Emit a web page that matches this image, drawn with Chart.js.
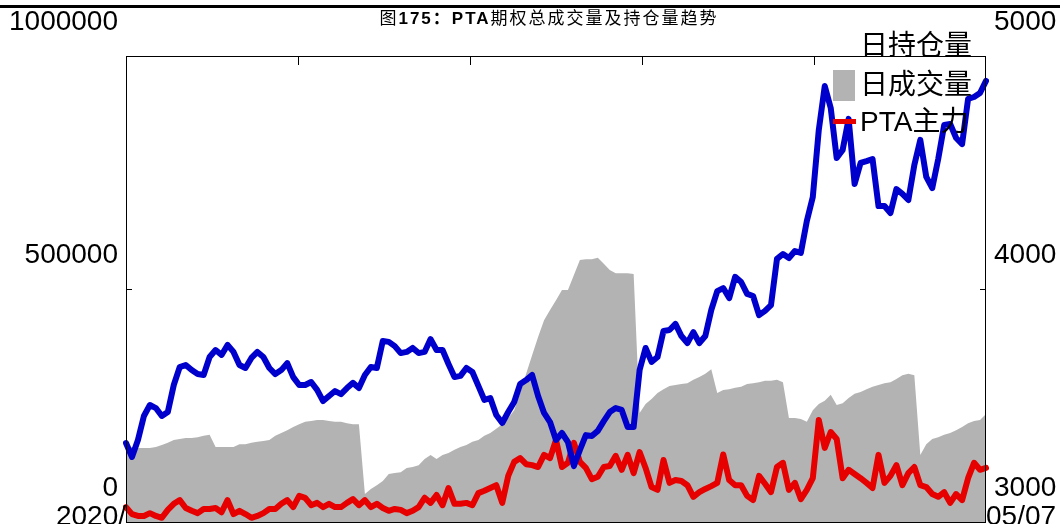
<!DOCTYPE html>
<html>
<head>
<meta charset="utf-8">
<title>PTA期权总成交量及持仓量趋势</title>
<script src="https://cdn.jsdelivr.net/npm/chart.js@4.4.1/dist/chart.umd.min.js"></script>
<style>
  html, body { margin: 0; padding: 0; background: #fff; }
</style>
</head>
<body>
<canvas id="js-chart-pta" width="1060" height="524"></canvas>
<script>
// Values (one point per trading step)
const ptaPrice = [
  3339, 3279, 3352, 3455, 3502, 3489, 3455, 3472, 3588, 3665,
  3674, 3652, 3635, 3631, 3708, 3738, 3717, 3760, 3730, 3674,
  3661, 3704, 3730, 3708, 3661, 3635, 3652, 3682, 3622, 3588,
  3588, 3601, 3567, 3519, 3541, 3562, 3549, 3575, 3597, 3575,
  3631, 3665, 3661, 3777, 3773, 3755, 3725, 3730, 3747, 3725,
  3730, 3785, 3738, 3738, 3678, 3622, 3627, 3661, 3644, 3584,
  3524, 3532, 3459, 3425, 3472, 3515, 3592, 3609, 3631, 3541,
  3468, 3429, 3352, 3382, 3343, 3240, 3309, 3373, 3369, 3391,
  3433, 3472, 3489, 3481, 3408, 3408, 3652, 3747, 3687, 3708,
  3820, 3824, 3850, 3798, 3768, 3815, 3768, 3798, 3910, 3991,
  4004, 3961, 4052, 4030, 3979, 3970, 3888, 3906, 3931, 4129,
  4150, 4133, 4163, 4155, 4292, 4395, 4682, 4871, 4777, 4562,
  4597, 4730, 4451, 4541, 4549, 4558, 4356, 4356, 4326, 4429,
  4408, 4382, 4532, 4640, 4481, 4433, 4558, 4704, 4708, 4648,
  4622, 4816, 4824, 4841, 4893
];

const openInterest = [
  161000, 161000, 159000, 159000, 159000, 161000, 165000, 170000, 176000, 178000,
  180000, 180000, 182000, 185000, 187000, 161000, 161000, 161000, 161000, 167000,
  167000, 170000, 172000, 174000, 176000, 185000, 191000, 197000, 204000, 210000,
  215000, 217000, 219000, 219000, 217000, 215000, 215000, 212000, 210000, 210000,
  60000, 71000, 79000, 88000, 103000, 105000, 107000, 116000, 118000, 122000,
  135000, 144000, 135000, 144000, 148000, 155000, 161000, 165000, 172000, 176000,
  185000, 191000, 200000, 210000, 223000, 240000, 277000, 318000, 358000, 397000,
  433000, 455000, 476000, 498000, 498000, 530000, 562000, 564000, 564000, 567000,
  554000, 541000, 534000, 534000, 534000, 532000, 234000, 253000, 264000, 277000,
  285000, 292000, 294000, 296000, 298000, 305000, 311000, 318000, 328000, 277000,
  283000, 285000, 288000, 290000, 296000, 298000, 300000, 303000, 303000, 305000,
  300000, 223000, 223000, 221000, 215000, 240000, 253000, 260000, 273000, 251000,
  255000, 266000, 275000, 279000, 285000, 290000, 294000, 298000, 300000, 307000,
  315000, 318000, 315000, 144000, 167000, 178000, 182000, 187000, 191000, 197000,
  204000, 212000, 217000, 219000, 232000
];

const dailyVolume = [
  32000, 17000, 13000, 13000, 19000, 13000, 9000, 26000, 39000, 47000,
  30000, 24000, 19000, 28000, 28000, 30000, 21000, 47000, 17000, 24000,
  17000, 9000, 13000, 19000, 28000, 28000, 39000, 47000, 32000, 56000,
  52000, 36000, 41000, 32000, 39000, 32000, 32000, 41000, 49000, 36000,
  47000, 32000, 39000, 30000, 24000, 28000, 26000, 19000, 24000, 32000,
  52000, 41000, 58000, 36000, 73000, 39000, 39000, 41000, 36000, 62000,
  67000, 73000, 79000, 41000, 99000, 129000, 137000, 124000, 122000, 118000,
  144000, 137000, 176000, 118000, 127000, 170000, 129000, 116000, 92000, 97000,
  118000, 120000, 142000, 112000, 144000, 105000, 150000, 116000, 75000, 69000,
  133000, 84000, 90000, 88000, 79000, 54000, 64000, 71000, 77000, 84000,
  145000, 90000, 79000, 79000, 56000, 47000, 99000, 82000, 64000, 118000,
  127000, 69000, 84000, 49000, 69000, 94000, 219000, 159000, 193000, 178000,
  94000, 112000, 103000, 94000, 84000, 73000, 144000, 84000, 99000, 122000,
  79000, 105000, 118000, 79000, 75000, 60000, 54000, 64000, 41000, 60000,
  47000, 94000, 127000, 112000, 116000
];

const leftTicks = [0, 500000, 1000000];
const rightTicks = [3000, 4000, 5000];
const xEndLabels = ['2020/', '05/07'];
const legendLabels = ['日持仓量', '日成交量', 'PTA主力'];
const titleParts = [['图', false], ['175：PTA', true], ['期权总成交量及持仓量趋势', false]];

const FONT = '"Liberation Sans", "Noto Sans CJK SC", sans-serif';

class pagePta {
  /*
   * Extra drawing: top rule, title, frame, inner ticks, legend, end labels
   */
  static decorations() {
    return {
      id: 'decorations',
      afterDraw(chart) {
        const ctx = chart.ctx;
        const a = chart.chartArea;
        const yL = chart.scales.yL;
        const yR = chart.scales.yR;
        ctx.save();

        // top rule
        ctx.fillStyle = '#000';
        ctx.fillRect(0, 5, chart.width, 3);

        // title, drawn in pieces (bold digits / latin)
        ctx.textBaseline = 'middle';
        ctx.letterSpacing = '2px';
        let total = 0;
        titleParts.forEach(([t, bold]) => {
          ctx.font = (bold ? 'bold ' : '') + '17px ' + FONT;
          total += ctx.measureText(t).width;
        });
        let x = 549 - total / 2;
        titleParts.forEach(([t, bold]) => {
          ctx.font = (bold ? 'bold ' : '') + '17px ' + FONT;
          ctx.fillText(t, x, 19);
          x += ctx.measureText(t).width;
        });
        ctx.letterSpacing = '0px';

        // frame
        ctx.strokeStyle = '#000';
        ctx.lineWidth = 1;
        ctx.strokeRect(a.left + .5, a.top + .5, a.right - a.left - 1, a.bottom - a.top);

        // inner ticks
        ctx.beginPath();
        const mid = Math.round(yL.getPixelForValue(leftTicks[1])) + .5;
        ctx.moveTo(a.left, mid); ctx.lineTo(a.left + 6, mid);
        const midR = Math.round(yR.getPixelForValue(rightTicks[1])) + .5;
        ctx.moveTo(a.right, midR); ctx.lineTo(a.right - 6, midR);
        for (let k = 1; k < 5; k++) {
          const tx = Math.round(a.left + (a.right - a.left) * k / 5) + .5;
          ctx.moveTo(tx, a.top); ctx.lineTo(tx, a.top + 9);
        }
        ctx.stroke();

        // legend
        ctx.font = '28px ' + FONT;
        ctx.textAlign = 'left';
        ctx.fillStyle = '#000';
        const rows = [47, 86, 123];
        legendLabels.forEach((t, i) => ctx.fillText(t, 860, rows[i]));
        ctx.fillStyle = '#b3b3b3';
        ctx.fillRect(833, 70, 22, 31);
        ctx.fillStyle = '#e60000';
        ctx.fillRect(833, 119, 23, 5);

        // end labels of the time axis
        ctx.fillStyle = '#000';
        ctx.textBaseline = 'alphabetic';
        ctx.textAlign = 'right';
        ctx.fillText(xEndLabels[0], a.left, 525);
        ctx.textAlign = 'left';
        ctx.fillText(xEndLabels[1], a.right, 525);

        ctx.restore();
      }
    };
  }

  static yAxis(position, ticks, width) {
    return {
      type: 'linear',
      position: position,
      min: ticks[0],
      max: ticks[ticks.length - 1],
      afterBuildTicks: (s) => { s.ticks = ticks.map(v => ({ value: v })); },
      afterFit: (s) => {
        s.width = width;
        s.paddingTop = 0;
        s.paddingBottom = 0;
      },
      grid: { display: false, drawTicks: false },
      border: { display: false },
      ticks: {
        color: '#000',
        padding: 8,
        labelOffset: -34,
        font: { size: 28, family: FONT },
        callback: (v) => String(v)
      }
    };
  }

  static initChart() {
    const el = document.getElementById('js-chart-pta');
    const labels = ptaPrice.map((_, i) => i);

    new Chart(el, {
      type: 'line',
      data: {
        labels: labels,
        datasets: [
          {
            label: '日持仓量',
            data: ptaPrice,
            yAxisID: 'yR',
            borderColor: '#0000cc',
            borderWidth: 6,
            pointRadius: 0,
            tension: 0,
            borderJoinStyle: 'round',
            borderCapStyle: 'round',
            order: 1
          },
          {
            label: 'PTA主力',
            data: dailyVolume,
            yAxisID: 'yL',
            borderColor: '#e60000',
            borderWidth: 6,
            pointRadius: 0,
            tension: 0,
            borderJoinStyle: 'round',
            borderCapStyle: 'round',
            order: 2
          },
          {
            label: '日成交量',
            data: openInterest,
            yAxisID: 'yL',
            fill: 'origin',
            backgroundColor: '#b3b3b3',
            borderWidth: 0,
            pointRadius: 0,
            tension: 0,
            order: 3
          }
        ]
      },
      options: {
        responsive: false,
        animation: false,
        devicePixelRatio: 1,
        layout: { padding: { top: 56, bottom: 2, left: 0, right: 0 } },
        scales: {
          x: { display: false },
          yL: pagePta.yAxis('left', leftTicks, 126),
          yR: pagePta.yAxis('right', rightTicks, 74)
        },
        plugins: {
          legend: { display: false },
          tooltip: { enabled: false }
        }
      },
      plugins: [pagePta.decorations()]
    });
  }

  static init() {
    this.initChart();
  }
}

pagePta.init();
</script>
</body>
</html>
